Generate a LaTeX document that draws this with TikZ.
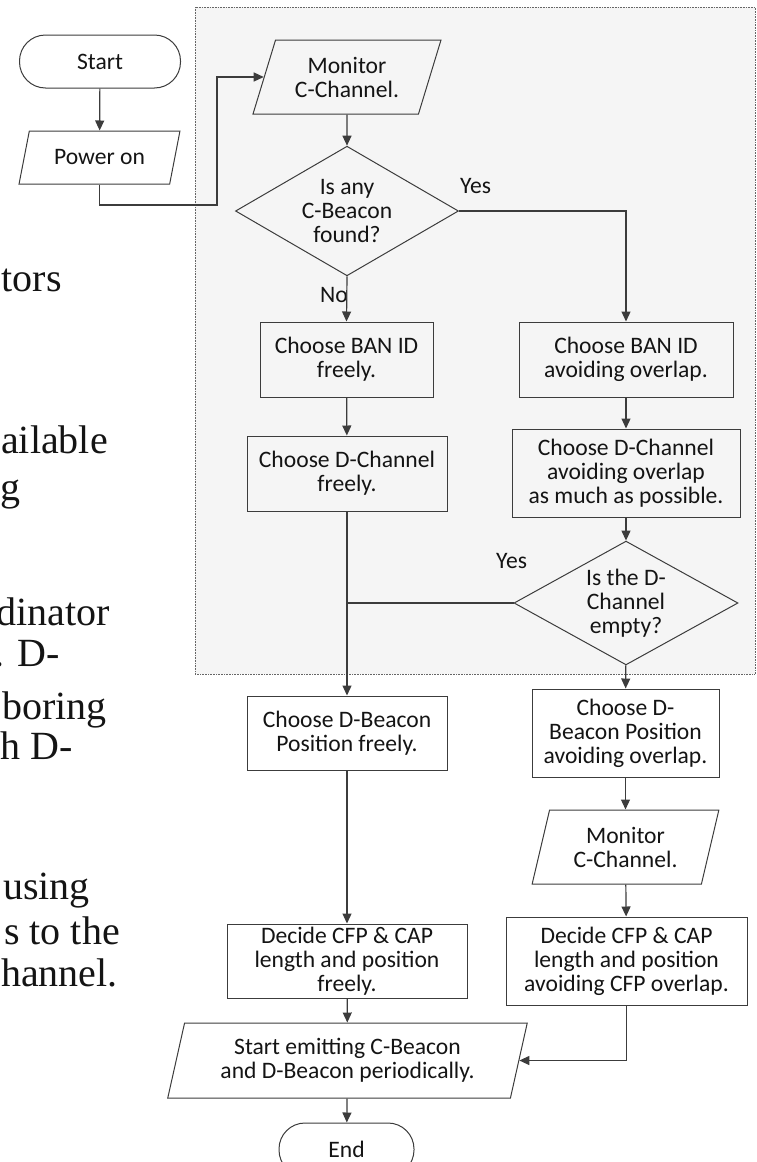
\documentclass[tikz,border=0pt]{standalone}
\usepackage{fontspec}
\setmainfont{Carlito}
\newfontfamily\paperfont{Liberation Serif}
\usetikzlibrary{shapes.geometric, arrows.meta}
\definecolor{linegray}{HTML}{3C3C3C}
\definecolor{panelgray}{HTML}{F5F5F5}
\tikzstyle{startstop} = [rectangle, rounded corners=26pt, minimum width=161pt, minimum height=53pt, text centered, draw=linegray, line width=1pt, fill=none]
\tikzstyle{io} = [trapezium, trapezium left angle=68.5, trapezium right angle=111.5, trapezium stretches=true, minimum height=74pt, inner sep=1pt, align=center, draw=linegray, line width=1pt, fill=none]
\tikzstyle{process} = [rectangle, minimum height=75pt, inner sep=1pt, align=center, draw=linegray, line width=1pt, fill=none]
\tikzstyle{decision} = [diamond, minimum width=223pt, minimum height=106pt, inner sep=-6pt, align=center, draw=linegray, line width=1pt, fill=none]
\tikzstyle{arrow} = [line width=1.2pt, draw=linegray, -{Triangle[length=10pt,width=9pt]}]
\tikzstyle{line} = [line width=1.2pt, draw=linegray]
\tikzstyle{answer} = [inner sep=0pt]
\tikzstyle{margintext} = [anchor=base east, inner sep=0pt, font=\paperfont\fontsize{40}{46}\selectfont]

\begin{document}
\begin{tikzpicture}[x=1pt, y=-1pt, every node/.style={font=\fontsize{23.6}{24}\selectfont, text=black!92}]
\useasboundingbox (0,0) rectangle (756,1162);
\clip (0,0) rectangle (756,1162);
% panel behind the channel search
\draw[densely dotted, line width=0.6pt, draw=gray!80!black, fill=panelgray] (195,7) rectangle (755,674);

% text of the page beside the chart
\node[margintext] (p1) at (62,291) {tors};
\node[margintext] (p2) at (108,453) {ailable};
\node[margintext] (p3) at (21,500) {g};
\node[margintext] (p4) at (110,625) {dinator};
\node[margintext] (p5) at (60,666) {. D-};
\node[margintext] (p6) at (107,719) {boring};
\node[margintext] (p7) at (73,759) {h D-};
\node[margintext] (p8) at (90,899) {using};
\node[margintext] (p9) at (120,944) {s to the};
\node[margintext] (p10) at (118,986) {hannel.};

\node[startstop] (start) at (100,61.5) {Start};
\node[io, minimum width=161pt, minimum height=53pt] (power) at (99.5,157.5) {Power on};
\node[io, minimum width=188pt] (monitor1) at (347,77) {Monitor\\C-Channel.};
\node[decision] (found) at (347,211) {Is any\\C-Beacon\\found?};
\node[process, minimum width=173pt] (banfree) at (346.5,359.5) {Choose BAN ID\\freely.};
\node[process, minimum width=214pt] (banavoid) at (626,359.5) {Choose BAN ID\\avoiding overlap.};
\node[process, minimum width=200pt] (chfree) at (347,473.5) {Choose D-Channel\\freely.};
\node[process, minimum width=228pt, minimum height=88pt] (chavoid) at (626,473) {Choose D-Channel\\avoiding overlap\\as much as possible.};
\node[decision, minimum width=224pt] (empty) at (626,603) {Is the D-\\Channel\\empty?};
\node[process, minimum width=200pt, minimum height=74pt] (dbfree) at (347,733) {Choose D-Beacon\\Position freely.};
\node[process, minimum width=187pt, minimum height=88pt] (dbavoid) at (625.5,733) {Choose D-\\Beacon Position\\avoiding overlap.};
\node[io, minimum width=187pt, trapezium left angle=74, trapezium right angle=106] (monitor2) at (625.5,847) {Monitor\\C-Channel.};
\node[process, minimum width=240pt, minimum height=74pt] (cfpfree) at (347,961) {Decide CFP \& CAP\\length and position\\freely.};
\node[process, minimum width=241pt, minimum height=88pt] (cfpavoid) at (626.5,961) {Decide CFP \& CAP\\length and position\\avoiding CFP overlap.};
\node[io, minimum width=361pt, minimum height=75pt, trapezium left angle=74, trapezium right angle=106] (emit) at (347.5,1060.5) {Start emitting C-Beacon\\and D-Beacon periodically.};
\node[startstop, minimum width=135pt] (end) at (346.5,1149.5) {End};

\node[answer, anchor=base west] (yes1) at (460,193) {Yes};
\node[answer, anchor=base east] (no1) at (348,302) {No};
\node[answer, anchor=base west] (yes2) at (496,568) {Yes};

\coordinate (bend) at (217,205);
\draw[arrow] (start) -- (power);
\draw[arrow] (power.south) |- (bend) |- (monitor1.west);
\draw[arrow] (monitor1) -- (found);
\draw[arrow] (found.east) -| (banavoid.north);
\draw[arrow] (found.south) -- (banfree.north);
\draw[arrow] (banfree) -- (chfree);
\draw[arrow] (banavoid) -- (chavoid);
\draw[arrow] (chavoid) -- (empty);
\draw[arrow] (chfree.south) -- (dbfree.north);
\draw[line] (empty.west) -- (empty.west -| chfree.south);
\draw[arrow] (empty) -- (dbavoid);
\draw[arrow] (dbavoid) -- (monitor2);
\draw[arrow] (monitor2) -- (cfpavoid);
\draw[arrow] (dbfree) -- (cfpfree);
\draw[arrow] (cfpfree) -- (emit);
\draw[arrow] (cfpavoid.south) |- (emit.east);
\draw[arrow] (emit) -- (end);
\end{tikzpicture}
\end{document}
